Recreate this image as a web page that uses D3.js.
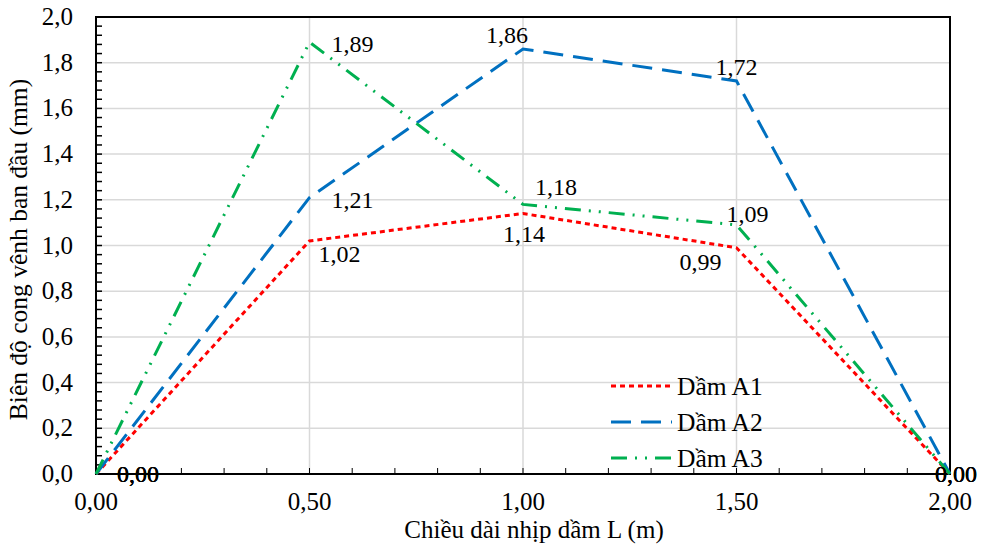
<!DOCTYPE html>
<html>
<head>
<meta charset="utf-8">
<script src="https://cdn.jsdelivr.net/npm/d3@7"></script>
<style>
  body { margin: 0; background: #fff; }
  svg text { font-family: "Liberation Serif", "Times New Roman", serif; fill: #000; }
</style>
</head>
<body>
<div class="canvas"></div>
<script>
// data
const xValues = [0, 0.5, 1.0, 1.5, 2.0];
const damA1 = [0, 1.02, 1.14, 0.99, 0];
const damA2 = [0, 1.21, 1.86, 1.72, 0];
const damA3 = [0, 1.89, 1.18, 1.09, 0];
const seriesNames = ["Dầm A1", "Dầm A2", "Dầm A3"];
const xTicks = [0, 0.5, 1.0, 1.5, 2.0];
const yTicks = [0, 0.2, 0.4, 0.6, 0.8, 1.0, 1.2, 1.4, 1.6, 1.8, 2.0];

const width = 982, height = 546;
const margin = { top: 17, right: 32, bottom: 72, left: 96 };

const fmt = (v, d) => v.toFixed(d).replace(".", ",");

const x = d3.scaleLinear().domain([0, 2]).range([margin.left, width - margin.right]);
const y = d3.scaleLinear().domain([0, 2]).range([height - margin.bottom, margin.top]);

const svg = d3.select(".canvas").append("svg")
  .attr("width", width)
  .attr("height", height);

// grid
svg.append("g")
  .selectAll("line")
  .data(yTicks.slice(1, -1))
  .join("line")
    .attr("x1", x(0)).attr("x2", x(2))
    .attr("y1", d => y(d)).attr("y2", d => y(d))
    .attr("stroke", "#d9d9d9").attr("stroke-width", 1.5);

svg.append("g")
  .selectAll("line")
  .data(xTicks.slice(1, -1))
  .join("line")
    .attr("x1", d => x(d)).attr("x2", d => x(d))
    .attr("y1", y(0)).attr("y2", y(2))
    .attr("stroke", "#d9d9d9").attr("stroke-width", 1.5);

// minor ticks (inward)
svg.append("g")
  .selectAll("line")
  .data(d3.range(0, 2.0001, 0.04))
  .join("line")
    .attr("x1", x(0)).attr("x2", x(0) + 6)
    .attr("y1", d => y(d)).attr("y2", d => y(d))
    .attr("stroke", "#000").attr("stroke-width", 1.5);

svg.append("g")
  .selectAll("line")
  .data(d3.range(0, 2.0001, 0.1))
  .join("line")
    .attr("x1", d => x(d)).attr("x2", d => x(d))
    .attr("y1", y(0)).attr("y2", y(0) - 6)
    .attr("stroke", "#000").attr("stroke-width", 1);

// frame
svg.append("rect")
  .attr("x", x(0)).attr("y", y(2))
  .attr("width", x(2) - x(0)).attr("height", y(0) - y(2))
  .attr("fill", "none").attr("stroke", "#000").attr("stroke-width", 2);

// axis labels
svg.append("g")
  .selectAll("text")
  .data(yTicks)
  .join("text")
    .attr("x", x(0) - 23)
    .attr("y", d => y(d) + 8)
    .attr("text-anchor", "end")
    .attr("font-size", 25)
    .text(d => fmt(d, 1));

svg.append("g")
  .selectAll("text")
  .data(xTicks)
  .join("text")
    .attr("x", d => x(d))
    .attr("y", y(0) + 36)
    .attr("text-anchor", "middle")
    .attr("font-size", 25)
    .text(d => fmt(d, 2));

svg.append("text")
  .attr("x", 534)
  .attr("y", 538)
  .attr("text-anchor", "middle")
  .attr("font-size", 25)
  .text("Chiều dài nhịp dầm L (m)");

svg.append("text")
  .attr("transform", `translate(27,${(y(0) + y(2)) / 2 + 4}) rotate(-90)`)
  .attr("text-anchor", "middle")
  .attr("font-size", 25.5)
  .text("Biên độ cong vênh ban đầu (mm)");

// series
const series = [
  { name: seriesNames[0], values: damA1, color: "#ff0000", dash: "5,4" },
  { name: seriesNames[1], values: damA2, color: "#0070c0", dash: "20,10" },
  { name: seriesNames[2], values: damA3, color: "#00b050", dash: "16,8,2,8,2,8" }
];

// label placement per point: [dx, dy, anchor]
const labelPlaceA1 = [[21, 8, "start"], [9, 21, "start"], [1, 28, "middle"], [-15, 22, "end"], [-15, 8, "start"]];
const labelPlaceA2 = [[21, 8, "start"], [22, 10, "start"], [5, -6, "end"], [0, -6, "middle"], [-15, 8, "start"]];
const labelPlaceA3 = [[21, 8, "start"], [22, 10, "start"], [12, -9, "start"], [-10, -3, "start"], [-15, 8, "start"]];
const labelPlaces = [labelPlaceA1, labelPlaceA2, labelPlaceA3];

const line = d3.line().x((d, i) => x(xValues[i])).y(d => y(d));

series.forEach(s => {
  svg.append("path")
    .datum(s.values)
    .attr("d", line)
    .attr("fill", "none")
    .attr("stroke", s.color)
    .attr("stroke-width", 3)
    .attr("stroke-dasharray", s.dash);
});

// data labels
series.forEach((s, si) => {
  const place = labelPlaces[si];
  svg.append("g")
    .selectAll("text")
    .data(s.values)
    .join("text")
      .attr("x", (d, i) => x(xValues[i]) + place[i][0])
      .attr("y", (d, i) => y(d) + place[i][1])
      .attr("text-anchor", (d, i) => place[i][2])
      .attr("font-size", 24)
      .text(d => fmt(d, 2));
});

// legend
const legend = svg.append("g");
series.forEach((s, i) => {
  const ly = 386 + i * 36;
  legend.append("line")
    .attr("x1", 611).attr("x2", 672)
    .attr("y1", ly).attr("y2", ly)
    .attr("stroke", s.color).attr("stroke-width", 3)
    .attr("stroke-dasharray", s.dash);
  legend.append("text")
    .attr("x", 677).attr("y", ly + 9)
    .attr("font-size", 25.5)
    .text(s.name);
});
</script>
</body>
</html>
